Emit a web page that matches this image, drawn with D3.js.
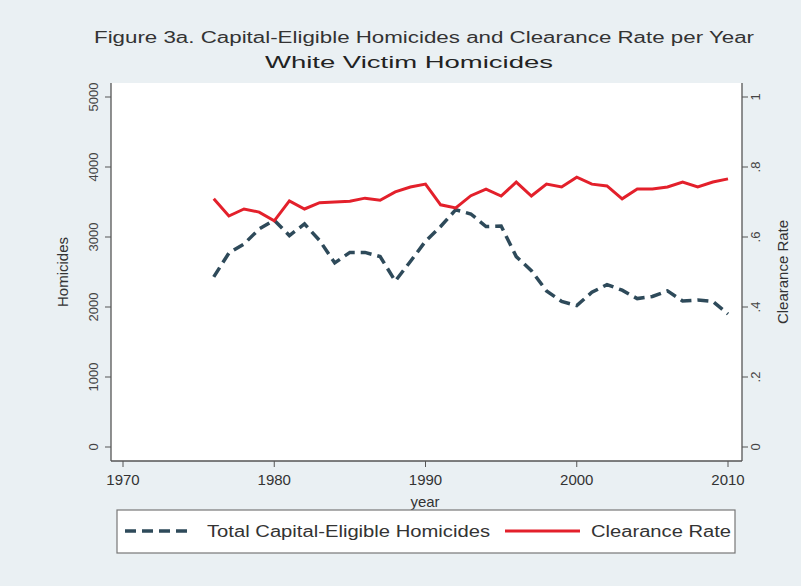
<!DOCTYPE html>
<html><head><meta charset="utf-8">
<script src="https://cdn.jsdelivr.net/npm/d3@7"></script>
<style>body{margin:0;background:#eaf0f3;} text{font-family:"Liberation Sans",Arial,sans-serif;}</style>
</head><body>
<svg id="c" width="801" height="586"></svg>
<script>
const years = d3.range(1976, 2011);
const homicides = [2430,2770,2900,3114,3240,3020,3186,2950,2630,2780,2780,2720,2371,2650,2940,3150,3390,3329,3150,3157,2720,2520,2230,2080,2020,2210,2320,2240,2120,2150,2230,2086,2100,2080,1900];
const clearance = [0.709,0.660,0.680,0.671,0.646,0.703,0.680,0.698,0.700,0.702,0.711,0.705,0.729,0.743,0.751,0.692,0.683,0.718,0.737,0.717,0.757,0.717,0.751,0.743,0.771,0.751,0.746,0.709,0.737,0.737,0.743,0.757,0.743,0.757,0.766];
const xTicks = [1970,1980,1990,2000,2010];
const yLeftTicks = [0,1000,2000,3000,4000,5000];
const yRightTicks = [0,0.2,0.4,0.6,0.8,1];
const yRightLabels = ["0",".2",".4",".6",".8","1"];

const svg = d3.select("#c");
svg.append("rect").attr("width",801).attr("height",586).attr("fill","#eaf0f3");
const L=111,R=742,T=83,B=461;
svg.append("rect").attr("x",L).attr("y",T).attr("width",R-L).attr("height",B-T).attr("fill","#ffffff");

const x = d3.scaleLinear().domain([1970,2010]).range([123,728]);
const yL = d3.scaleLinear().domain([0,5000]).range([447,97]);
const yR = d3.scaleLinear().domain([0,1]).range([447,97]);

const axCol="#555";
svg.append("line").attr("x1",L).attr("x2",L).attr("y1",T).attr("y2",B).attr("stroke",axCol).attr("stroke-width",1.3);
svg.append("line").attr("x1",R).attr("x2",R).attr("y1",T).attr("y2",B).attr("stroke",axCol).attr("stroke-width",1.3);
svg.append("line").attr("x1",L).attr("x2",R).attr("y1",B).attr("y2",B).attr("stroke",axCol).attr("stroke-width",1.3);

xTicks.forEach(t=>{
  svg.append("line").attr("x1",x(t)).attr("x2",x(t)).attr("y1",B).attr("y2",B+6).attr("stroke",axCol);
  svg.append("text").attr("x",x(t)).attr("y",485).attr("text-anchor","middle").attr("font-size",15).attr("fill","#333").text(t);
});
svg.append("text").attr("x",425).attr("y",507).attr("text-anchor","middle").attr("font-size",15).attr("fill","#333").text("year");

yLeftTicks.forEach(t=>{
  svg.append("line").attr("x1",L-6).attr("x2",L).attr("y1",yL(t)).attr("y2",yL(t)).attr("stroke",axCol);
  svg.append("text").attr("transform",`translate(98,${yL(t)}) rotate(-90)`).attr("text-anchor","middle").attr("font-size",13).attr("fill","#444").text(t);
});
svg.append("text").attr("transform",`translate(68,272) rotate(-90)`).attr("text-anchor","middle").attr("font-size",15).attr("fill","#333").text("Homicides");

yRightTicks.forEach((t,i)=>{
  svg.append("line").attr("x1",R).attr("x2",R+6).attr("y1",yR(t)).attr("y2",yR(t)).attr("stroke",axCol);
  svg.append("text").attr("transform",`translate(760,${yR(t)}) rotate(-90)`).attr("text-anchor","middle").attr("font-size",13).attr("fill","#444").text(yRightLabels[i]);
});
svg.append("text").attr("transform",`translate(788,272) rotate(-90)`).attr("text-anchor","middle").attr("font-size",15).attr("fill","#333").text("Clearance Rate");

const hLine = d3.line().x((d,i)=>x(years[i])).y(d=>yL(d));
const cLine = d3.line().x((d,i)=>x(years[i])).y(d=>yR(d));
svg.append("path").datum(homicides).attr("d",hLine).attr("fill","none").attr("stroke","#2e4a5a").attr("stroke-width",3.5).attr("stroke-dasharray","11,6");
svg.append("path").datum(clearance).attr("d",cLine).attr("fill","none").attr("stroke","#e3202b").attr("stroke-width",3);

svg.append("text").attr("x",424).attr("y",43).attr("text-anchor","middle").attr("font-size",16).attr("fill","#333").attr("textLength",660).attr("lengthAdjust","spacingAndGlyphs").text("Figure 3a. Capital-Eligible Homicides and Clearance Rate per Year");
svg.append("text").attr("x",409).attr("y",68).attr("text-anchor","middle").attr("font-size",16).attr("fill","#222").attr("textLength",288).attr("lengthAdjust","spacingAndGlyphs").text("White Victim Homicides");

svg.append("rect").attr("x",117).attr("y",510).attr("width",618).attr("height",43).attr("fill","#fff").attr("stroke","#777").attr("stroke-width",1.2);
svg.append("line").attr("x1",125).attr("x2",192).attr("y1",531).attr("y2",531).attr("stroke","#2e4a5a").attr("stroke-width",3.5).attr("stroke-dasharray","11,6");
svg.append("text").attr("x",207).attr("y",537).attr("font-size",16).attr("fill","#333").attr("textLength",283).attr("lengthAdjust","spacingAndGlyphs").text("Total Capital-Eligible Homicides");
svg.append("line").attr("x1",505).attr("x2",580).attr("y1",531).attr("y2",531).attr("stroke","#e3202b").attr("stroke-width",3);
svg.append("text").attr("x",591).attr("y",537).attr("font-size",16).attr("fill","#333").attr("textLength",140).attr("lengthAdjust","spacingAndGlyphs").text("Clearance Rate");
</script>
</body></html>
